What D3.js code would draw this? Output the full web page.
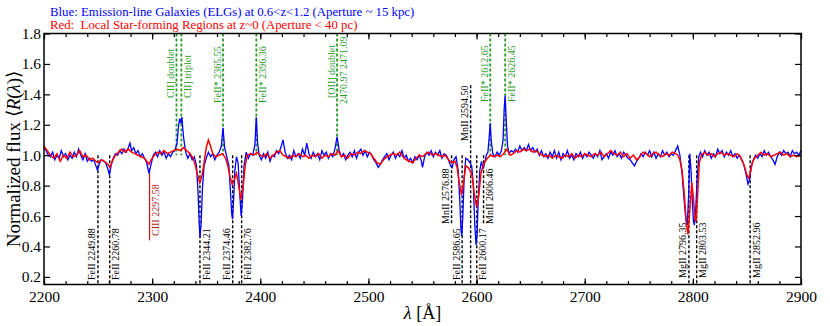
<!DOCTYPE html>
<html>
<head>
<meta charset="utf-8">
<script src="https://cdn.jsdelivr.net/npm/d3@7"></script>
<style>
  body { margin: 0; background: #fff; }
  svg { display: block; font-family: "Liberation Serif", "Times New Roman", serif; }
</style>
</head>
<body>
<svg id="chart" width="830" height="326"></svg>
<script>
// axis ticks
var lambdaTicks = [2200, 2300, 2400, 2500, 2600, 2700, 2800, 2900];
var lambdaMinor = d3.range(2200, 2901, 20);
var fluxTicks = [0.2, 0.4, 0.6, 0.8, 1.0, 1.2, 1.4, 1.6, 1.8];

// Blue: ELGs at 0.6<z<1.2 -- [wavelength, normalized flux]
var blueSpec = [
  [2200,1.05],[2202,1.03],[2204,1.00],[2206,0.99],[2208,1.02],[2210,0.97],[2212,1.00],[2214,0.98],[2216,1.03],[2218,0.99],
  [2220,1.01],[2222,0.97],[2224,1.00],[2226,0.98],[2228,1.02],[2230,0.99],[2232,1.04],[2234,1.00],[2236,0.97],[2238,1.01],
  [2240,0.96],[2242,0.98],[2244,0.96],[2246,0.97],[2248,0.93],[2249.5,0.90],[2251,0.94],[2253,0.97],[2255,0.96],[2257,0.95],
  [2259,0.91],[2260.5,0.87],[2262,0.93],[2264,0.98],[2266,1.01],[2268,1.00],[2270,1.03],[2272,1.01],[2274,1.04],[2276,1.02],
  [2278,1.05],[2279.5,1.08],[2281,1.03],[2283,1.05],[2285,1.01],[2287,1.03],[2289,0.99],[2291,1.01],[2293,0.98],[2295,0.95],
  [2297,0.88],[2299,0.94],[2301,1.00],[2303,1.02],[2305,0.99],[2307,1.03],[2309,1.00],[2311,1.02],[2313,0.98],[2315,1.01],
  [2317,0.99],[2319,1.02],[2321,1.03],[2323,1.08],[2324.5,1.20],[2325.5,1.24],[2326.5,1.21],[2327.5,1.25],[2329,1.12],[2331,1.02],
  [2333,0.98],[2335,1.01],[2337,0.97],[2339,0.99],[2341,0.93],[2342.5,0.75],[2343.5,0.55],[2344.3,0.46],[2345.3,0.55],[2346.5,0.78],
  [2348,0.93],[2350,0.98],[2352,1.02],[2354,0.99],[2356,1.01],[2358,0.97],[2360,1.00],[2362,1.02],[2364,1.06],[2365.5,1.18],
  [2367,1.05],[2369,0.99],[2371,0.93],[2372.5,0.75],[2373.5,0.62],[2374.3,0.58],[2375.3,0.70],[2376.5,0.90],[2378,0.99],[2379.5,0.95],
  [2381,0.75],[2382.3,0.60],[2383.5,0.70],[2385,0.93],[2387,1.02],[2389,0.98],[2391,1.01],[2393,1.00],[2395,1.07],[2396.3,1.25],
  [2397.5,1.08],[2399,1.00],[2401,0.97],[2403,1.01],[2405,0.98],[2407,1.02],[2409,0.96],[2411,1.00],[2413,0.99],[2415,1.03],
  [2417,1.01],[2419,1.05],[2421,1.10],[2423,1.02],[2425,0.98],[2427,1.00],[2429,0.97],[2431,1.03],[2433,0.99],[2435,1.01],
  [2437,0.98],[2439,1.04],[2441,1.00],[2443,1.08],[2445,1.01],[2447,0.98],[2449,1.02],[2451,0.99],[2453,1.01],[2455,0.97],
  [2457,1.03],[2459,1.00],[2461,1.02],[2463,0.98],[2465,1.01],[2467,0.99],[2469,1.04],[2471,1.12],[2473,1.03],[2475,0.99],
  [2477,1.01],[2479,0.97],[2481,1.00],[2483,1.02],[2485,0.99],[2487,1.03],[2489,0.98],[2491,1.02],[2493,1.04],[2495,1.00],
  [2497,1.03],[2499,0.99],[2501,1.02],[2503,1.00],[2505,0.97],[2507,0.95],[2509,0.92],[2511,0.94],[2513,0.97],[2515,0.99],
  [2517,1.01],[2519,0.97],[2521,1.00],[2523,1.02],[2525,0.98],[2527,1.01],[2529,0.99],[2531,1.03],[2533,0.98],[2535,1.00],
  [2537,0.96],[2539,0.98],[2541,0.95],[2543,0.99],[2545,0.97],[2547,1.00],[2549,0.96],[2550,0.92],[2552,0.99],[2554,1.02],
  [2556,1.00],[2558,1.03],[2560,0.99],[2562,1.02],[2564,1.00],[2566,1.03],[2568,0.98],[2570,1.01],[2572,1.00],[2574,0.97],
  [2576,0.93],[2577.5,0.92],[2579,0.97],[2581,0.99],[2583,0.90],[2584.5,0.70],[2585.5,0.52],[2586.3,0.47],[2587.3,0.60],[2588.5,0.85],
  [2590,0.98],[2592,0.97],[2594,0.95],[2595.5,0.93],[2597,0.80],[2598.3,0.55],[2599.5,0.41],[2600.5,0.48],[2601.5,0.70],[2603,0.90],
  [2604.5,0.96],[2606,0.91],[2607.5,0.95],[2609,1.00],[2610.5,1.02],[2611.8,1.13],[2612.6,1.21],[2613.5,1.10],[2615,1.01],[2617,0.99],
  [2619,1.02],[2621,1.00],[2623,1.03],[2624.5,1.10],[2625.5,1.30],[2626.4,1.39],[2627.3,1.25],[2628.5,1.07],[2630,1.01],[2632,1.03],
  [2634,1.02],[2636,1.04],[2638,1.02],[2640,1.06],[2642,1.03],[2644,1.05],[2646,1.03],[2648,1.07],[2650,1.03],[2652,1.05],
  [2654,1.02],[2656,1.04],[2658,1.00],[2660,1.03],[2662,0.99],[2664,1.01],[2666,0.98],[2668,1.02],[2670,0.99],[2672,1.03],
  [2674,0.98],[2676,1.02],[2678,0.97],[2680,1.01],[2682,0.99],[2684,1.03],[2686,0.98],[2688,1.00],[2690,0.97],[2692,1.01],
  [2694,0.99],[2696,1.02],[2698,0.98],[2700,1.01],[2702,0.99],[2704,1.02],[2706,1.00],[2708,0.98],[2710,1.01],[2712,0.99],
  [2714,1.03],[2716,0.97],[2718,0.99],[2720,1.01],[2722,0.98],[2724,1.02],[2726,1.00],[2728,1.03],[2730,0.99],[2732,1.01],
  [2734,0.98],[2736,1.02],[2738,1.00],[2740,0.98],[2742,0.97],[2744,0.95],[2746,0.93],[2748,0.96],[2750,0.98],[2752,1.01],
  [2754,0.99],[2756,1.02],[2758,1.00],[2760,1.03],[2762,0.99],[2764,1.02],[2766,0.98],[2768,1.01],[2770,0.99],[2772,1.03],
  [2774,1.00],[2776,1.02],[2778,0.99],[2780,1.01],[2782,1.00],[2784,1.03],[2786,1.06],[2788,1.00],[2790,0.88],[2792,0.70],
  [2793.5,0.58],[2794.8,0.54],[2796,0.72],[2797.2,1.01],[2798.3,0.90],[2799.5,0.70],[2800.5,0.57],[2801.4,0.54],[2802.5,0.62],[2804,0.85],
  [2805.5,0.99],[2807,1.02],[2809,0.99],[2811,1.03],[2813,1.00],[2815,1.02],[2817,0.98],[2819,1.01],[2821,0.99],[2823,1.04],
  [2825,1.01],[2827,1.03],[2829,0.99],[2831,1.02],[2833,1.00],[2835,1.03],[2837,0.99],[2839,1.01],[2841,0.98],[2843,1.00],
  [2845,0.97],[2847,0.94],[2849,0.88],[2851,0.81],[2852.5,0.84],[2854,0.93],[2856,0.97],[2858,1.00],[2860,0.98],[2862,1.01],
  [2864,0.99],[2866,1.03],[2868,1.00],[2870,1.02],[2872,0.99],[2874,0.97],[2876,0.94],[2878,0.99],[2880,1.02],[2882,1.00],
  [2884,1.03],[2886,1.01],[2888,1.02],[2890,0.99],[2892,1.03],[2894,1.01],[2896,1.02],[2898,1.00],[2900,1.03]
];

// Red: local star-forming regions at z~0
var redSpec = [
  [2200,1.06],[2203,1.03],[2206,1.00],[2209,0.98],[2212,1.01],[2215,0.96],[2218,1.00],[2221,0.98],[2224,1.02],[2227,0.99],
  [2230,1.00],[2233,1.03],[2236,0.99],[2239,1.00],[2242,0.97],[2245,0.98],[2248,0.96],[2250,0.95],[2253,0.97],[2256,0.96],
  [2259,0.94],[2261,0.92],[2263,0.96],[2266,1.00],[2269,1.02],[2272,1.04],[2275,1.02],[2278,1.04],[2281,1.02],[2284,1.01],
  [2287,1.00],[2290,0.99],[2293,0.98],[2295,0.96],[2297,0.94],[2299,0.97],[2302,1.00],[2305,1.02],[2308,1.01],[2311,1.03],
  [2314,1.01],[2317,1.02],[2320,1.03],[2323,1.04],[2326,1.03],[2329,1.05],[2332,1.03],[2335,1.01],[2338,0.98],[2340,0.93],
  [2342,0.87],[2344,0.82],[2346,0.86],[2348,0.95],[2350,1.05],[2352,1.10],[2354,1.06],[2356,1.01],[2359,0.99],[2362,1.00],
  [2365,1.01],[2368,0.98],[2370,0.93],[2372,0.86],[2374,0.81],[2376,0.84],[2378,0.88],[2380,0.80],[2382,0.71],[2384,0.78],
  [2386,0.93],[2388,1.00],[2391,1.01],[2394,1.00],[2397,1.02],[2400,1.00],[2403,0.99],[2406,1.01],[2409,0.98],[2412,1.00],
  [2415,1.02],[2418,1.03],[2421,1.00],[2424,0.99],[2427,0.98],[2430,1.00],[2433,0.99],[2436,1.01],[2439,0.99],[2442,1.00],
  [2445,0.98],[2448,1.00],[2451,0.99],[2454,1.01],[2457,0.98],[2460,1.00],[2463,0.99],[2466,1.01],[2469,1.00],[2472,1.03],
  [2475,0.99],[2478,1.00],[2481,0.98],[2484,1.01],[2487,1.00],[2490,1.02],[2493,1.01],[2496,1.03],[2499,1.02],[2502,1.01],
  [2505,0.98],[2508,0.95],[2511,0.94],[2514,0.97],[2517,0.99],[2520,1.00],[2523,1.01],[2526,1.00],[2529,1.02],[2532,0.99],
  [2535,0.97],[2538,0.96],[2541,0.95],[2544,0.98],[2547,1.00],[2550,0.99],[2553,1.01],[2556,1.02],[2559,1.00],[2562,1.01],
  [2565,1.00],[2568,0.99],[2571,1.00],[2574,0.97],[2577,0.95],[2580,0.96],[2582,0.92],[2584,0.82],[2586,0.74],[2588,0.82],
  [2590,0.93],[2592,0.92],[2594,0.90],[2596,0.86],[2598,0.74],[2600,0.66],[2602,0.73],[2604,0.88],[2606,0.93],[2608,0.96],
  [2610,0.98],[2613,1.00],[2616,0.99],[2619,1.00],[2622,0.99],[2625,1.01],[2628,1.04],[2631,1.00],[2634,1.01],[2637,1.03],
  [2640,1.02],[2643,1.04],[2646,1.03],[2649,1.04],[2652,1.02],[2655,1.03],[2658,1.01],[2661,1.00],[2664,0.99],[2667,1.00],
  [2670,0.98],[2673,1.00],[2676,0.99],[2679,0.98],[2682,1.00],[2685,0.99],[2688,1.01],[2691,0.98],[2694,1.00],[2697,0.99],
  [2700,1.01],[2703,1.00],[2706,0.99],[2709,1.01],[2712,1.00],[2715,1.02],[2718,0.99],[2721,1.01],[2724,1.03],[2727,1.01],
  [2730,1.00],[2733,1.02],[2736,0.99],[2739,1.01],[2742,0.98],[2745,1.00],[2748,0.97],[2751,0.99],[2754,1.02],[2757,1.01],
  [2760,0.99],[2763,1.01],[2766,1.02],[2769,1.00],[2772,0.99],[2775,1.01],[2778,1.00],[2781,1.02],[2784,1.01],[2786,1.00],
  [2788,0.97],[2790,0.90],[2792,0.75],[2794,0.55],[2795.5,0.48],[2797,0.62],[2799,0.82],[2800.5,0.72],[2802,0.58],[2803,0.565],
  [2804.5,0.75],[2806,0.95],[2808,1.00],[2811,1.02],[2814,1.00],[2817,1.01],[2820,0.99],[2823,1.01],[2826,1.02],[2829,1.00],
  [2832,1.01],[2835,1.00],[2838,0.99],[2841,1.01],[2844,0.99],[2846,0.96],[2848,0.92],[2850,0.87],[2851.5,0.85],[2853,0.88],
  [2855,0.95],[2857,0.98],[2860,1.00],[2863,1.02],[2866,1.00],[2869,1.01],[2872,0.99],[2875,1.00],[2878,1.01],[2881,1.02],
  [2884,1.00],[2887,1.01],[2890,0.99],[2893,1.00],[2896,0.99],[2900,1.00]
];

// absorption line ids (black dashed) and emission ids (green dashed)
var absNames = ["FeII 2249.88", "FeII 2260.78", "FeII 2344.21", "FeII 2374.46", "FeII 2382.76",
                "MnII 2576.88", "FeII 2586.65", "MnII 2594.50", "FeII 2600.17", "MnII 2606.46",
                "MgII 2796.35", "MgII 2803.53", "MgII 2852.96"];
var absWaves = [2249.88, 2260.78, 2344.21, 2374.46, 2382.76, 2576.88, 2586.65, 2594.50, 2600.17, 2606.46,
                2796.35, 2803.53, 2852.96];
var emiNames = ["CII] doublet", "CII] triplet", "FeII* 2365.55", "FeII* 2396.36", "[OII] doublet",
                "FeII* 2612.65", "FeII* 2626.45"];
var emiWaves = [2322.5, 2327.0, 2365.55, 2396.36, 2471.0, 2612.65, 2626.45];
var ciiiName = "CIII 2297.58";
var ciiiWave = 2297.58;

// layout of the markers: side of label, flux range of the line, label bottom (px)
var absLayout = {
  "FeII 2249.88": ["L", 1.0, 0.15, 280], "FeII 2260.78": ["R", 1.0, 0.15, 280],
  "FeII 2344.21": ["R", 1.0, 0.15, 280], "FeII 2374.46": ["L", 1.0, 0.15, 280],
  "FeII 2382.76": ["R", 1.0, 0.15, 280], "MnII 2576.88": ["L", 1.0, 0.54, 224],
  "FeII 2586.65": ["L", 1.0, 0.15, 280], "MnII 2594.50": ["L", 1.46, 0.15, 141],
  "FeII 2600.17": ["R", 1.0, 0.15, 280], "MnII 2606.46": ["R", 1.0, 0.54, 224],
  "MgII 2796.35": ["L", 1.0, 0.15, 278], "MgII 2803.53": ["R", 1.0, 0.15, 278],
  "MgII 2852.96": ["R", 1.0, 0.15, 278]
};
var emiLayout = {
  "CII] doublet": ["L", 98], "CII] triplet": ["R", 98], "FeII* 2365.55": ["L", 103],
  "FeII* 2396.36": ["R", 103], "[OII] doublet": ["L", 98], "FeII* 2612.65": ["L", 102],
  "FeII* 2626.45": ["R", 102]
};

var svg = d3.select("#chart");
var margin = {left: 44, right: 29, top: 33.5, bottom: 41.5};
var W = 830, H = 326;
var x = d3.scaleLinear().domain([2200, 2900]).range([margin.left, W - margin.right]);
var y = d3.scaleLinear().domain([0.15, 1.8]).range([H - margin.bottom, margin.top]);

var green = "#2a9a2a", black = "#000";
var labelSize = 10;

// green emission markers
var gEmi = svg.append("g");
emiWaves.forEach(function (w, i) {
  var name = emiNames[i], lay = emiLayout[name];
  gEmi.append("line")
    .attr("x1", x(w)).attr("x2", x(w))
    .attr("y1", y(1.8)).attr("y2", y(1.0))
    .attr("stroke", green).attr("stroke-width", 1.8)
    .attr("stroke-dasharray", "3,2");
  var tx = lay[0] == "L" ? x(w) - 2.5 : x(w) + 2.5 + labelSize * 0.72;
  gEmi.append("text")
    .attr("transform", "translate(" + tx + "," + lay[1] + ") rotate(-90)")
    .attr("font-size", labelSize).attr("fill", green)
    .text(name);
});
// second line of the [OII] label
gEmi.append("text")
  .attr("transform", "translate(" + (x(2471.0) + 2.5 + labelSize * 0.72) + ",104) rotate(-90)")
  .attr("font-size", labelSize).attr("fill", green)
  .text("2470.97 2471.09");

// black absorption markers
var gAbs = svg.append("g");
absWaves.forEach(function (w, i) {
  var name = absNames[i], lay = absLayout[name];
  gAbs.append("line")
    .attr("x1", x(w)).attr("x2", x(w))
    .attr("y1", y(lay[1])).attr("y2", y(lay[2]))
    .attr("stroke", black).attr("stroke-width", 1.4)
    .attr("stroke-dasharray", "3,2");
  var tx = lay[0] == "L" ? x(w) - 2.5 : x(w) + 2.5 + labelSize * 0.72;
  gAbs.append("text")
    .attr("transform", "translate(" + tx + "," + lay[3] + ") rotate(-90)")
    .attr("font-size", labelSize).attr("fill", black)
    .text(name);
});

// CIII marker
svg.append("line")
  .attr("x1", x(ciiiWave)).attr("x2", x(ciiiWave))
  .attr("y1", y(0.915)).attr("y2", y(0.44))
  .attr("stroke", "#b22222").attr("stroke-width", 1.3);
svg.append("text")
  .attr("transform", "translate(" + (x(ciiiWave) + 2.5 + 10 * 0.72) + ",236) rotate(-90)")
  .attr("font-size", 10).attr("fill", "#b22222")
  .text(ciiiName);

// spectra
var line = d3.line().x(function (d) { return x(d[0]); }).y(function (d) { return y(d[1]); });
svg.append("path").datum(blueSpec).attr("d", line)
  .attr("fill", "none").attr("stroke", "#0000ff").attr("stroke-width", 1.3);
svg.append("path").datum(redSpec).attr("d", line)
  .attr("fill", "none").attr("stroke", "#ff0000").attr("stroke-width", 1.5);

// axes
function styleAxis(g) {
  g.select(".domain").remove();
  g.selectAll(".tick line").attr("stroke", "#000").attr("stroke-width", 1.2);
  g.selectAll(".tick text").attr("fill", "#000").attr("font-size", 15.5)
    .attr("font-family", "Liberation Serif, serif");
}
svg.append("g").attr("transform", "translate(0," + y(0.15) + ")")
  .call(d3.axisBottom(x).tickValues(lambdaTicks).tickSize(-6).tickPadding(6).tickFormat(d3.format("d")))
  .call(styleAxis);
svg.append("g").attr("transform", "translate(0," + y(0.15) + ")")
  .call(d3.axisBottom(x).tickValues(lambdaMinor).tickSize(-3.5).tickFormat(""))
  .call(styleAxis);
svg.append("g").attr("transform", "translate(0," + y(1.8) + ")")
  .call(d3.axisTop(x).tickValues(lambdaTicks).tickSize(-6).tickFormat(""))
  .call(styleAxis);
svg.append("g").attr("transform", "translate(0," + y(1.8) + ")")
  .call(d3.axisTop(x).tickValues(lambdaMinor).tickSize(-3.5).tickFormat(""))
  .call(styleAxis);
svg.append("g").attr("transform", "translate(" + x(2200) + ",0)")
  .call(d3.axisLeft(y).tickValues(fluxTicks).tickSize(-6).tickPadding(3).tickFormat(d3.format(".1f")))
  .call(styleAxis);
svg.append("g").attr("transform", "translate(" + x(2900) + ",0)")
  .call(d3.axisRight(y).tickValues(fluxTicks).tickSize(-6).tickFormat(""))
  .call(styleAxis);

// frame
svg.append("rect")
  .attr("x", x(2200)).attr("y", y(1.8))
  .attr("width", x(2900) - x(2200)).attr("height", y(0.15) - y(1.8))
  .attr("fill", "none").attr("stroke", "#000").attr("stroke-width", 1.5);

// axis titles
var xt = svg.append("text").attr("x", (x(2200) + x(2900)) / 2).attr("y", 319)
  .attr("text-anchor", "middle").attr("font-size", 18);
xt.append("tspan").attr("font-style", "italic").text("λ");
xt.append("tspan").text(" [Å]");

var yt = svg.append("text")
  .attr("transform", "translate(20," + ((y(0.15) + y(1.8)) / 2) + ") rotate(-90)")
  .attr("text-anchor", "middle").attr("font-size", 19);
yt.append("tspan").text("Normalized flux ⟨");
yt.append("tspan").attr("font-style", "italic").text("R");
yt.append("tspan").text("(");
yt.append("tspan").attr("font-style", "italic").text("λ");
yt.append("tspan").text(")⟩");

// header
svg.append("text").attr("x", 50).attr("y", 16).attr("font-size", 12.8).attr("fill", "#0000ff")
  .style("white-space", "pre")
  .text("Blue: Emission-line Galaxies (ELGs) at 0.6<z<1.2 (Aperture ~ 15 kpc)");
svg.append("text").attr("x", 50).attr("y", 28.5).attr("font-size", 12.8).attr("fill", "#ff0000")
  .style("white-space", "pre")
  .text("Red:  Local Star-forming Regions at z~0 (Aperture < 40 pc)");
</script>
</body>
</html>
